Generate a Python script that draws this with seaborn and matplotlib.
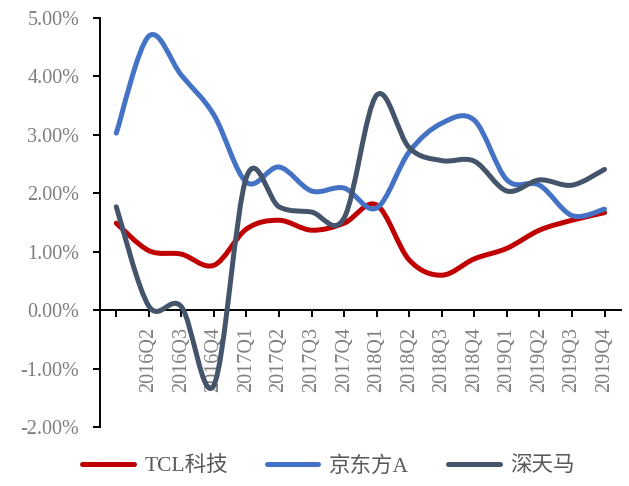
import numpy as np
import matplotlib.pyplot as plt
import seaborn as sns
from matplotlib.path import Path
from matplotlib.patches import PathPatch
from matplotlib.lines import Line2D
from matplotlib.ticker import PercentFormatter

quarters = ["", "2016Q2", "2016Q3", "2016Q4",
            "2017Q1", "2017Q2", "2017Q3", "2017Q4",
            "2018Q1", "2018Q2", "2018Q3", "2018Q4",
            "2019Q1", "2019Q2", "2019Q3", "2019Q4"]
tcl = [1.49, 1.02, 0.96, 0.77, 1.39, 1.54, 1.37, 1.49,
       1.80, 0.86, 0.60, 0.88, 1.06, 1.37, 1.54, 1.67]
boe = [3.03, 4.69, 4.02, 3.34, 2.19, 2.45, 2.04, 2.09,
       1.75, 2.71, 3.20, 3.25, 2.23, 2.14, 1.62, 1.73]
tianma = [1.77, 0.07, 0.06, -1.28, 2.28, 1.77, 1.68, 1.58,
          3.68, 2.78, 2.56, 2.55, 2.04, 2.23, 2.14, 2.41]

names = ["TCL科技", "京东方A", "深天马"]
colors = ["#C00000", "#4472C4", "#44546A"]

sns.set_theme(style="white")
plt.rcParams['font.family'] = ['Liberation Serif', 'Noto Sans CJK SC']
plt.rcParams['axes.unicode_minus'] = False


def smooth_path(ys):
    # excel style smoothed line: catmull-rom turned into bezier segments
    pts = np.column_stack([np.arange(len(ys)), ys]).astype(float)
    ext = np.vstack([pts[0], pts, pts[-1]])
    verts = [pts[0]]
    codes = [Path.MOVETO]
    for i in range(len(pts) - 1):
        p0, p1, p2, p3 = ext[i], ext[i + 1], ext[i + 2], ext[i + 3]
        verts += [p1 + (p2 - p0) / 6, p2 - (p3 - p1) / 6, p2]
        codes += [Path.CURVE4] * 3
    return Path(verts, codes)


fig, ax = plt.subplots(figsize=(6.29, 4.86), dpi=100)
fig.subplots_adjust(left=0.159, right=0.987, top=0.963, bottom=0.121)

for ys, c in zip([tcl, boe, tianma], colors):
    ax.add_patch(PathPatch(smooth_path(ys), facecolor="none", edgecolor=c,
                           lw=3.6, capstyle="round", joinstyle="round", zorder=3))

ax.set_xlim(-0.5, 15.5)
ax.set_ylim(-2, 5)

sns.despine(ax=ax)
ax.spines['bottom'].set_position(('data', 0))
for s in ['left', 'bottom']:
    ax.spines[s].set_color('black')
    ax.spines[s].set_linewidth(1.4)

ax.set_yticks(range(-2, 6))
ax.yaxis.set_major_formatter(PercentFormatter(decimals=2))
ax.set_xticks(range(16))
ax.set_xticklabels(quarters)
ax.tick_params(axis='both', direction='out', length=5, width=1.4, color='black',
               labelsize=14.5, labelcolor='#7f7f7f', left=True, bottom=True)
ax.tick_params(axis='y', pad=10)
ax.tick_params(axis='x', pad=7, labelrotation=90)

handles = [Line2D([], [], color=c, lw=3.6, solid_capstyle="round") for c in colors]
fig.legend(handles, names, loc='center', bbox_to_anchor=(0.522, 0.041), ncol=3,
           frameon=False, fontsize=15.5, labelcolor='#595959',
           handlelength=2.4, handletextpad=0.5, columnspacing=1.8)

plt.savefig("out.png", dpi=100)
